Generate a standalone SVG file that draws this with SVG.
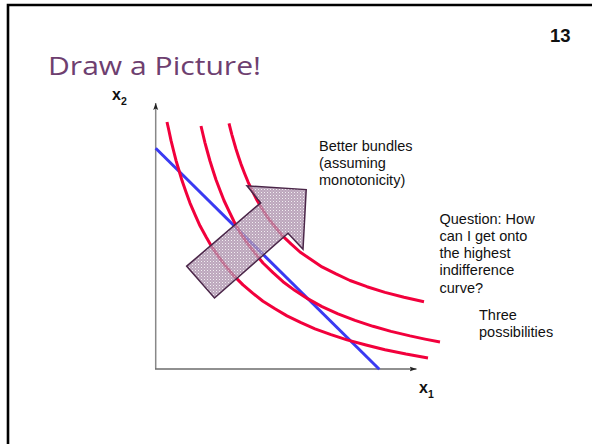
<svg xmlns="http://www.w3.org/2000/svg" width="592" height="444" viewBox="0 0 592 444">
<style>
  .t { font-family: "Liberation Sans", Arial, sans-serif; fill: #111; }
  .lbl { font-family: "Liberation Sans", Arial, sans-serif; font-size: 14.5px; fill: #111; }
  .ax { font-family: "Liberation Sans", Arial, sans-serif; font-weight: bold; fill: #111; }
  .ic { fill: none; stroke: #f2003c; stroke-width: 3; stroke-linejoin: round; stroke-linecap: butt; }
</style>
<defs>
  <marker id="ah" markerWidth="8" markerHeight="6" refX="7" refY="3" orient="auto" markerUnits="userSpaceOnUse">
    <path d="M0,0.5 L7,3 L0,5.5 L1.5,3 Z" fill="#222"/>
  </marker>
  <pattern id="dots" width="3" height="3" patternUnits="userSpaceOnUse">
    <rect width="3" height="3" fill="#a98ea9"/>
    <rect x="0" y="0" width="1" height="1" fill="#ffffff" opacity="0.8"/>
    <rect x="1.5" y="1.5" width="1" height="1" fill="#e8dce8" opacity="0.6"/>
  </pattern>
</defs>
<rect width="592" height="444" fill="#ffffff"/>
<path d="M8,444 V5 H592" fill="none" stroke="#000" stroke-width="2.6"/>

<g id="title">
  <text x="48" y="75" font-family="'Open Sans', 'Liberation Sans', sans-serif" font-weight="normal" font-size="25" fill="#6e3f70" textLength="213" lengthAdjust="spacingAndGlyphs">Draw a Picture!</text>
</g>
<g id="page-number">
  <text class="t" x="550" y="42" font-size="18.5" font-weight="bold">13</text>
</g>

<g id="axes">
  <line x1="155.7" y1="368.5" x2="155.7" y2="103" stroke="#888" stroke-width="1.5" marker-end="url(#ah)"/>
  <line x1="155" y1="369" x2="416.5" y2="369" stroke="#222" stroke-width="1.2" marker-end="url(#ah)"/>
  <text class="ax" x="112" y="100" font-size="16">x<tspan font-size="10.5" dy="5">2</tspan></text>
  <text class="ax" x="419" y="393" font-size="16">x<tspan font-size="10.5" dy="5">1</tspan></text>
</g>

<g id="budget-line">
  <line x1="155.7" y1="148.3" x2="379.3" y2="369.3" stroke="#3a3af2" stroke-width="3"/>
</g>

<g id="indifference-curves">
  <polyline class="ic" points="167,122 169,131 171,140.4 173.5,150.5 176,160.3 179,170.5 182,180.6 186,192 190,203.1 195,214.7 200,225.8 206,236.8 212,247.2 219,257.2 226,266.6 234,275.9 243,284.9 253,293.4 263,301.2 275,308.8 287,315.9 301,322.6 315,328.8 331,334.6 347,339.9 366,345 385,349.7 406,354 428,358"/>
  <polyline class="ic" points="201,126 203,134.5 205,142.8 207.5,152 210,161 213,170.5 216,179.7 220,190.3 224,200.5 229,211.2 234,221.5 240,232.4 247,242.9 255,253.2 263,263 273,272.6 283,281.7 295,290.6 308,298.9 322,306.6 338,313.8 355,320.3 373,326.3 391,331.4 410,335.9 425,339.1 440,342"/>
  <polyline class="ic" points="229,123.3 230.5,129.3 232,135.1 234,142.1 236,149 238.5,156.7 241,164.1 244.5,173.2 248,181.8 252.5,191.3 257,200.2 262.5,209.4 268,218 275,226.8 282,235.3 291,243.9 300,252 311,259.6 322,266.9 336,273.9 350,280.5 367,286.7 385,292.4 404,297.3 424,301.7"/>
</g>

<g id="better-arrow">
  <polygon points="186.7,266.2 214.5,298 288,233.3 303,249.3 306.2,189.6 247,185.8 260.7,202.8" fill="url(#dots)" fill-opacity="0.78"/>
  <polygon points="186.7,266.2 214.5,298 288,233.3 303,249.3 306.2,189.6 247,185.8 260.7,202.8" fill="none" stroke="#4a2648" stroke-width="1.5" stroke-linejoin="miter"/>
</g>

<g id="label-better">
  <text class="lbl" x="319" y="151">Better bundles</text>
  <text class="lbl" x="319" y="168">(assuming</text>
  <text class="lbl" x="319" y="185">monotonicity)</text>
</g>
<g id="label-question">
  <text class="lbl" x="439.5" y="223.5">Question: How</text>
  <text class="lbl" x="439.5" y="240.8">can I get onto</text>
  <text class="lbl" x="439.5" y="258.1">the highest</text>
  <text class="lbl" x="439.5" y="275.4">indifference</text>
  <text class="lbl" x="439.5" y="292.7">curve?</text>
</g>
<g id="label-three">
  <text class="lbl" x="479" y="320">Three</text>
  <text class="lbl" x="479" y="336.7">possibilities</text>
</g>
</svg>
